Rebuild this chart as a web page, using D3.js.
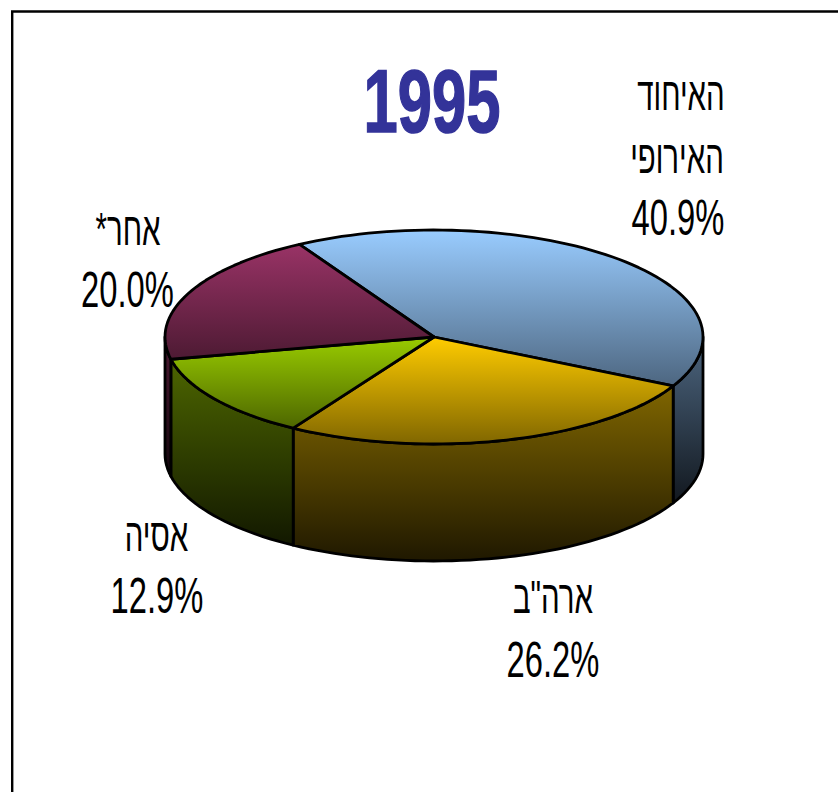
<!DOCTYPE html>
<html lang="he">
<head>
<meta charset="utf-8">
<script src="https://cdn.jsdelivr.net/npm/d3@7"></script>
<style>
html,body{margin:0;padding:0;background:#fff}
svg{display:block}
text{font-family:"Liberation Sans",Arial,sans-serif;fill:#000}
</style>
</head>
<body>
<svg id="c" width="838" height="792"></svg>
<script>
const title = "1995";
const categories = ["האיחוד האירופי", 'ארה"ב', "אסיה", "אחר*"];
const values = [40.9, 26.2, 12.9, 20.0];
const valueLabels = ["40.9%", "26.2%", "12.9%", "20.0%"];
const labelLines = [["האיחוד", "האירופי"], ['ארה"ב'], ["אסיה"], ["אחר*"]];
const colors = ["#99CCFF", "#FFCC00", "#99CC00", "#993366"];

const W = 838, H = 792;
const cx = 434, cy = 337, rx = 269, ry = 107, depth = 117;
const rad = Math.PI / 180;
const start = 330 * rad;
const LW = 2.8;
// per-label layout: x centres of the text lines, first baseline, line spacing
const labelLayout = [
  {xs: [681, 677], xv: 678, y: 110, dy: 62.5},
  {xs: [553], xv: 553, y: 613, dy: 64},
  {xs: [156.5], xv: 157, y: 551, dy: 62},
  {xs: [128], xv: 127.5, y: 245, dy: 62}
];

const svg = d3.select("#c");
svg.append("rect").attr("width", W).attr("height", H).attr("fill", "#fff");
const defs = svg.append("defs");

const pie = d3.pie().sort(null).startAngle(start).endAngle(start + 2 * Math.PI);
const arcs = pie(values);

const sx = d3.scaleLinear().domain([-1, 1]).range([cx - rx, cx + rx]);
const sy = d3.scaleLinear().domain([-1, 1]).range([cy - ry, cy + ry]);
const px = a => sx(Math.sin(a));
const py = a => sy(-Math.cos(a));
const line = d3.line().x(d => d[0]).y(d => d[1]);
const sample = (a0, a1) => {
  const n = Math.max(2, Math.ceil(Math.abs(a1 - a0) / (2 * rad)));
  return d3.range(n + 1).map(i => a0 + (a1 - a0) * i / n);
};
const mix = (c, k) => d3.rgb(c.r * k, c.g * k, c.b * k).formatHex();

function grad(id, c, k0, k1) {
  const g = defs.append("linearGradient").attr("id", id)
    .attr("x1", 0).attr("y1", 0).attr("x2", 0).attr("y2", 1);
  const rgb = d3.rgb(c);
  g.append("stop").attr("offset", 0).attr("stop-color", mix(rgb, k0));
  g.append("stop").attr("offset", 1).attr("stop-color", mix(rgb, k1));
}
colors.forEach((c, i) => {
  grad("top" + i, c, 1, 0.5);
  grad("side" + i, c, 0.5, 0.12);
});

// frame
svg.append("path")
  .attr("d", `M12.2,${H}V11.5H${W}`)
  .attr("fill", "none").attr("stroke", "#000").attr("stroke-width", 2.4);

// sides: only the front half of the rim (90deg..270deg) is visible
const front0 = 90 * rad, front1 = 270 * rad;
const sideG = svg.append("g");
arcs.forEach((d, i) => {
  [0, 2 * Math.PI].forEach(off => {
    const a0 = Math.max(d.startAngle - off, front0);
    const a1 = Math.min(d.endAngle - off, front1);
    if (a1 <= a0) return;
    const top = sample(a0, a1).map(a => [px(a), py(a)]);
    const bottom = sample(a0, a1).reverse().map(a => [px(a), py(a) + depth]);
    sideG.append("path")
      .attr("d", line(top.concat(bottom)) + "Z")
      .attr("fill", `url(#side${i})`)
      .attr("stroke", "#000").attr("stroke-width", LW).attr("stroke-linejoin", "round");
  });
});

// top face
const topG = svg.append("g");
arcs.forEach((d, i) => {
  const pts = sample(d.startAngle, d.endAngle).map(a => [px(a), py(a)]);
  topG.append("path")
    .attr("d", line([[cx, cy]].concat(pts)) + "Z")
    .attr("fill", `url(#top${i})`)
    .attr("stroke", "#000").attr("stroke-width", LW).attr("stroke-linejoin", "round");
});

// title
svg.append("text")
  .attr("transform", "translate(432,132) scale(0.7,1.02)")
  .attr("text-anchor", "middle")
  .style("font-size", "88px").style("font-weight", "bold").style("fill", "#333399")
  .style("stroke", "#333399").style("stroke-width", 1.5)
  .text(title);

// labels
const labelG = svg.append("g");
categories.forEach((c, i) => {
  const L = labelLayout[i];
  const lines = labelLines[i];
  lines.forEach((t, j) => {
    labelG.append("text")
      .attr("transform", `translate(${L.xs[j]},${L.y + j * L.dy}) scale(0.64,1)`)
      .attr("text-anchor", "middle").attr("direction", "rtl")
      .style("font-size", "46px")
      .text(t);
  });
  labelG.append("text")
    .attr("transform", `translate(${L.xv},${L.y + lines.length * L.dy}) scale(0.655,1)`)
    .attr("text-anchor", "middle")
    .style("font-size", "50px")
    .text(valueLabels[i]);
});
</script>
</body>
</html>
